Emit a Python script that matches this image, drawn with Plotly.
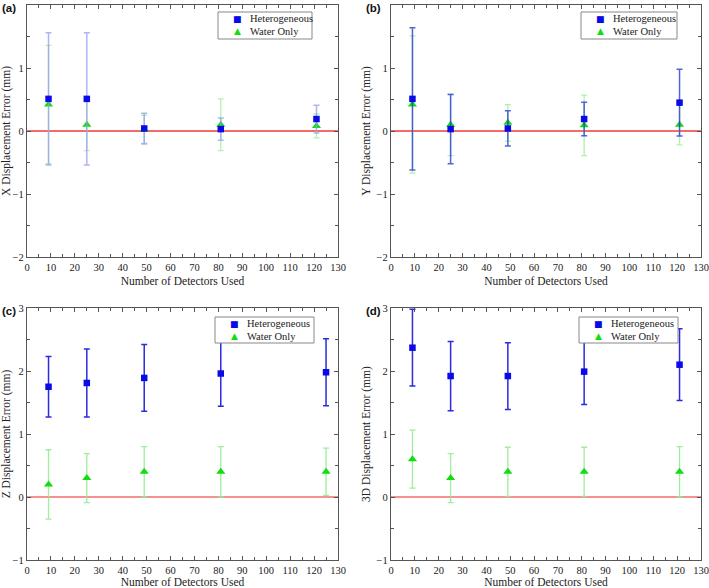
import plotly.graph_objects as go

# ---------------- data ----------------
x_ab = [9, 25, 49, 81, 121]
x_c = [9, 25, 49, 81, 125]
x_d = [9, 25, 49, 81, 121]

a_het = [0.51, 0.51, 0.04, 0.03, 0.19]
a_het_err = [1.05, 1.05, 0.24, 0.175, 0.22]
a_wat = [0.42, 0.10, 0.02, 0.10, 0.08]
a_wat_err = [0.94, 0.41, 0.23, 0.41, 0.19]

b_het = [0.51, 0.03, 0.04, 0.19, 0.45]
b_het_err = [1.13, 0.55, 0.28, 0.265, 0.53]
b_wat = [0.42, 0.10, 0.13, 0.09, 0.10]
b_wat_err = [1.09, 0.49, 0.29, 0.48, 0.32]

c_het = [1.75, 1.81, 1.89, 1.96, 1.98]
c_het_err = [0.48, 0.54, 0.53, 0.52, 0.53]
c_wat = [0.20, 0.30, 0.40, 0.40, 0.40]
c_wat_err = [0.55, 0.39, 0.40, 0.40, 0.375]

d_het = [2.37, 1.92, 1.92, 1.99, 2.10]
d_het_err = [0.61, 0.55, 0.53, 0.52, 0.57]
d_wat = [0.60, 0.30, 0.40, 0.40, 0.40]
d_wat_err = [0.46, 0.39, 0.39, 0.39, 0.40]

panel_labels = ["(a)", "(b)", "(c)", "(d)"]
y_titles = ["X Displacement Error (mm)", "Y Displacement Error (mm)",
            "Z Displacement Error (mm)", "3D Displacement Error (mm)"]
x_title = "Number of Detectors Used"
series_names = ["Heterogeneous", "Water Only"]

# ---------------- layout geometry ----------------
W, H = 709, 588
def px_x(p):
    return p / W
def px_y(p):
    return 1 - p / H

panels = [
    dict(x=(27, 338), y=(5, 257), data=(x_ab, a_het, a_het_err, a_wat, a_wat_err), yr=[-2, 2],
         het_err_col="rgba(150,155,240,0.75)", wat_err_col="rgba(150,235,150,0.7)",
         leg=(218, 312, 12, 39), zero_w=2),
    dict(x=(391, 701), y=(5, 257), data=(x_ab, b_het, b_het_err, b_wat, b_wat_err), yr=[-2, 2],
         het_err_col="rgba(40,60,210,0.8)", wat_err_col="rgba(140,235,140,0.7)",
         leg=(581, 677, 12, 39), zero_w=2),
    dict(x=(27, 338), y=(308, 560), data=(x_c, c_het, c_het_err, c_wat, c_wat_err), yr=[-1, 3],
         het_err_col="#2b2be0", wat_err_col="rgba(140,235,140,0.85)",
         leg=(215, 314, 317, 343), zero_w=1.5),
    dict(x=(391, 701), y=(308, 560), data=(x_d, d_het, d_het_err, d_wat, d_wat_err), yr=[-1, 3],
         het_err_col="#2b2be0", wat_err_col="rgba(140,235,140,0.85)",
         leg=(579, 678, 317, 343), zero_w=1.5),
]

fig = go.Figure()
serif = "Liberation Serif, Times New Roman, serif"
axcol = "#555555"
het_col = "#0a0ae6"
wat_col = "#11dd11"

layout = dict(width=W, height=H, margin=dict(l=0, r=0, t=0, b=0),
              paper_bgcolor="white", plot_bgcolor="white", showlegend=False,
              font=dict(family=serif, size=11, color="#222222"))
annotations = []
shapes = []

for i, p in enumerate(panels):
    n = "" if i == 0 else str(i + 1)
    xa, ya = "x" + n, "y" + n
    xs, het, het_err, wat, wat_err = p["data"]

    fig.add_trace(go.Scatter(
        x=xs, y=wat, mode="markers", name=series_names[1], xaxis=xa, yaxis=ya,
        marker=dict(symbol="triangle-up", size=8, color=wat_col),
        error_y=dict(type="data", array=wat_err, color=p["wat_err_col"], thickness=1.3, width=3)))
    fig.add_trace(go.Scatter(
        x=xs, y=het, mode="markers", name=series_names[0], xaxis=xa, yaxis=ya,
        marker=dict(symbol="square", size=6.5, color=het_col),
        error_y=dict(type="data", array=het_err, color=p["het_err_col"], thickness=1.5, width=3)))

    axis_common = dict(showline=True, linecolor=axcol, linewidth=1.3, mirror="ticks",
                       ticks="inside", ticklen=4, tickcolor=axcol, showgrid=False, zeroline=False,
                       automargin=False,
                       tickfont=dict(family=serif, size=10.5, color="#222222"))
    layout["xaxis" + n] = dict(axis_common, domain=[px_x(p["x"][0]), px_x(p["x"][1])],
                               range=[0, 130], dtick=10, tick0=0, anchor=ya,
                               minor=dict(ticks="inside", ticklen=2.5, dtick=5, tickcolor=axcol),
                               title=dict(text=x_title, standoff=5,
                                          font=dict(family=serif, size=11.5, color="#222222")))
    layout["yaxis" + n] = dict(axis_common, domain=[px_y(p["y"][1]), px_y(p["y"][0])],
                               range=p["yr"], dtick=1, anchor=xa,
                               minor=dict(ticks="inside", ticklen=2.5, dtick=0.5, tickcolor=axcol),
                               title=dict(text=y_titles[i], standoff=3,
                                          font=dict(family=serif, size=11.5, color="#222222")))

    shapes.append(dict(type="line", xref=xa, yref=ya, x0=0, x1=130, y0=0, y1=0,
                       line=dict(color="#f26c6c", width=p["zero_w"]), layer="below"))

    # legend box (drawn as a paper-referenced box with text)
    lx0, lx1, ly0, ly1 = p["leg"]
    shapes.append(dict(type="rect", xref="paper", yref="paper",
                       x0=px_x(lx0), x1=px_x(lx1), y0=px_y(ly1), y1=px_y(ly0),
                       fillcolor="white", line=dict(color="#888888", width=1), layer="above"))
    row_y = [ly0 + 7, ly0 + 19]
    glyphs = [("■", het_col, 9), ("▲", wat_col, 9)]
    for k in range(2):
        annotations.append(dict(text=glyphs[k][0], xref="paper", yref="paper",
                                x=px_x(lx0 + 19), y=px_y(row_y[k]), xanchor="center", yanchor="middle",
                                showarrow=False, font=dict(family="DejaVu Sans", size=glyphs[k][2],
                                                           color=glyphs[k][1])))
        annotations.append(dict(text=series_names[k], xref="paper", yref="paper",
                                x=px_x(lx0 + 30), y=px_y(row_y[k]), xanchor="left", yanchor="middle",
                                showarrow=False, font=dict(family=serif, size=10.5, color="#222222")))

    annotations.append(dict(text="<b>" + panel_labels[i] + "</b>", xref="paper", yref="paper",
                            x=px_x(p["x"][0] - 27), y=px_y(p["y"][0] + 3), xanchor="left", yanchor="middle",
                            showarrow=False, font=dict(family="Liberation Sans, Arial, sans-serif", size=11.5,
                                                       color="#111111")))

layout["shapes"] = shapes
layout["annotations"] = annotations
fig.update_layout(**layout)
fig.write_html("out.html", config={"displayModeBar": False},
               post_script="document.body.style.margin='0';document.body.style.padding='0';")
